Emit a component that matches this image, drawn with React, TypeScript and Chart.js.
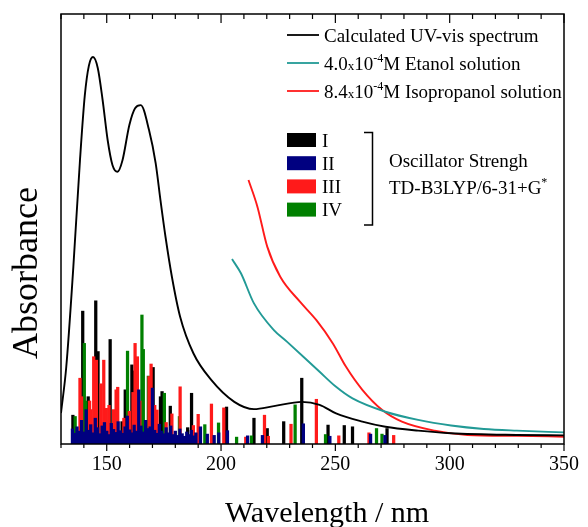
import { useEffect, useRef } from 'react';
import { Chart, registerables } from 'chart.js';

Chart.register(...registerables);

// ---- Data ----
const xMin = 130;
const xMax = 350;
const xTickLabels = [150, 200, 250, 300, 350];

// Calculated UV-vis spectrum
const calcNm = [130, 132.3, 135.4, 138.3, 140.4, 142.2, 144.0, 146.1, 148.2, 150.4, 152.5, 154.7, 156.9, 159.9, 162.4, 164.9, 168.5, 171.4, 173.5, 175.7, 178.5, 182.1, 187.9, 195.7, 205.8, 214.4, 223.1, 235.3, 243.1, 250.3, 261.8, 271.9, 286.2, 300.6, 329.3, 350];
const calcAbs = [7.2, 17.9, 41.2, 66, 81, 88, 90, 87.4, 80, 70.7, 64.9, 63.3, 66.0, 74.2, 78.1, 78.8, 73.0, 65.3, 56.7, 48.2, 38.9, 29.6, 21.1, 14.9, 9.8, 8.1, 8.8, 9.8, 9.1, 7.1, 5.2, 4.0, 3.1, 2.5, 2.1, 2.0];

// 4.0x10^-4 M Etanol solution
const etNm = [204.8, 208.7, 214.4, 223.1, 228.8, 236.0, 243.1, 250.3, 257.5, 271.9, 286.2, 300.6, 314.9, 329.3, 350];
const etAbs = [43.0, 39.7, 32.7, 26.5, 23.8, 20.3, 16.8, 13.3, 10.6, 7.5, 5.6, 4.3, 3.5, 3.1, 2.7];

// 8.4x10^-4 M Isopropanol solution
const isoNm = [212.0, 215.9, 220.2, 225.9, 234.5, 241.7, 248.9, 254.6, 261.8, 270.5, 279.1, 293.4, 307.8, 329.3, 350];
const isoAbs = [61.4, 55.2, 45.9, 38.9, 33.1, 28.8, 23.4, 18.0, 12.6, 7.9, 5.2, 3.1, 2.1, 1.9, 1.7];

// Oscillator strengths (sticks)
const osc1Nm = [135.2, 139.5, 141.9, 145.2, 146.2, 151.5, 156.7, 158.1, 161.0, 161.8, 170.3, 173.5, 174.2, 177.8, 185.4, 187.1, 202.4, 214.4, 220.2, 227.4, 235.3, 246.8, 253.9, 257.5, 272.6];
const osc1F = [6.7, 30.9, 11, 33.3, 21.5, 24.3, 5.2, 12.6, 18.4, 17.0, 17.8, 11, 12.2, 8.8, 3.8, 11.8, 8.6, 6.0, 3.6, 5.2, 15.3, 4.4, 4.3, 4.0, 3.6];

const osc2Nm = [135, 136, 137, 138, 139, 140, 141, 142, 143, 144, 145, 146, 147, 148, 149, 150, 151, 152, 153, 154, 155, 156, 157, 158, 159, 160, 161, 162, 163, 164, 165, 166, 167, 168, 169, 170, 171, 172, 173, 174, 175, 176, 177, 178, 179, 180, 181, 182, 183, 184, 185, 186, 187, 188, 189, 191, 194, 197, 199, 202.8, 211.6, 218.1, 236, 247.6, 265.4, 271.7];
const osc2F = [3.5, 2.5, 4.0, 3.0, 5.5, 2.8, 8.0, 3.2, 4.5, 2.6, 6.0, 3.8, 2.4, 4.2, 5.0, 3.0, 2.2, 4.8, 3.4, 2.7, 5.2, 3.1, 2.5, 4.0, 6.5, 3.3, 2.6, 4.4, 3.0, 12.6, 4.2, 2.8, 5.5, 3.6, 4.0, 13.0, 3.2, 2.5, 4.6, 3.0, 2.4, 3.8, 2.6, 4.2, 2.2, 3.0, 2.0, 3.5, 2.4, 1.8, 2.8, 2.2, 3.2, 1.9, 2.6, 4.0, 2.3, 2.0, 2.6, 3.1, 1.9, 2.0, 4.7, 1.8, 2.3, 2.0];

const osc3Nm = [138.3, 139.0, 142.5, 143.1, 144.3, 145.5, 147.5, 148.7, 149.8, 151.0, 153.0, 154.1, 154.8, 157.5, 159.9, 161.5, 162.4, 163.4, 164.5, 168.5, 169.4, 171.0, 172.0, 176.0, 178.5, 182.1, 187.9, 190.0, 195.8, 201.2, 210.8, 219.0, 220.7, 230.6, 241.7, 251.5, 264.7, 275.5];
const osc3F = [15.3, 11, 10, 8, 20.3, 19.5, 14, 19.5, 8.3, 9, 8, 12.6, 13.2, 6, 7.6, 12, 23.4, 20.3, 10, 15.7, 18.6, 9, 7.9, 5, 7, 13.3, 4.3, 6.9, 9.3, 8.4, 1.6, 6.7, 1.8, 4.6, 10.4, 1.9, 2.6, 2.0];

const osc4Nm = [136.2, 140.2, 140.9, 149.6, 159.1, 165.4, 166.0, 168.2, 175.2, 181.8, 192.9, 198.9, 206.8, 213.3, 232.4, 245.7, 268.0, 270.4];
const osc4F = [6.4, 23.4, 10, 8.3, 21.6, 30.0, 22, 15.8, 11.8, 6.4, 4.5, 4.9, 1.6, 1.9, 9.1, 2.2, 3.6, 2.3];

const pts = (xs: number[], ys: number[]) => xs.map((x, i) => ({ x, y: ys[i] }));

const SERIF = '"Liberation Serif", "Times New Roman", serif';
const TEAL = '#229a96';
const RED = '#ff1a1a';
const NAVY = '#000080';
const GREEN = '#008000';

function drawRuns(ctx: CanvasRenderingContext2D, x: number, y: number, runs: [string, number, number][]) {
  let cx = x;
  for (const [t, size, dy] of runs) {
    ctx.font = `${size}px ${SERIF}`;
    ctx.fillText(t, cx, y + dy);
    cx += ctx.measureText(t).width;
  }
}

const decoPlugin = {
  id: 'deco',
  afterDraw(chart: any) {
    const { ctx, chartArea: a, scales } = chart;
    const xs = scales.x;
    ctx.save();
    // frame
    ctx.strokeStyle = '#000';
    ctx.lineWidth = 1.5;
    ctx.strokeRect(a.left, a.top, a.right - a.left, a.bottom - a.top);
    // ticks (bottom outward, top inward)
    ctx.lineWidth = 1.2;
    for (let v = xMin; v <= xMax; v += 10) {
      const px = xs.getPixelForValue(v);
      const major = xTickLabels.includes(v);
      ctx.beginPath();
      ctx.moveTo(px, a.bottom);
      ctx.lineTo(px, a.bottom + (major ? 7 : 4));
      ctx.moveTo(px, a.top);
      ctx.lineTo(px, a.top + (major ? 9 : 5));
      ctx.stroke();
    }

    // Legend: lines
    const rows: [string, number, [string, number, number][]][] = [
      ['#000', 35, [['Calculated UV-vis spectrum', 19, 0]]],
      [TEAL, 63, [['4.0', 19, 0], ['x', 13, 0], ['10', 19, 0], ['-4', 12, -8], ['M Etanol solution', 19, 0]]],
      [RED, 91, [['8.4', 19, 0], ['x', 13, 0], ['10', 19, 0], ['-4', 12, -8], ['M Isopropanol solution', 19, 0]]],
    ];
    ctx.fillStyle = '#000';
    ctx.textBaseline = 'alphabetic';
    ctx.textAlign = 'left';
    for (const [col, yc, runs] of rows) {
      ctx.strokeStyle = col;
      ctx.lineWidth = 1.8;
      ctx.beginPath();
      ctx.moveTo(287, yc);
      ctx.lineTo(319, yc);
      ctx.stroke();
      drawRuns(ctx, 324, yc + 6.5, runs);
    }

    // Legend: bars
    const boxes: [string, string][] = [['#000', 'I'], [NAVY, 'II'], [RED, 'III'], [GREEN, 'IV']];
    boxes.forEach(([col, lab], i) => {
      const top = 133 + i * 23.2;
      ctx.fillStyle = col;
      ctx.fillRect(287, top, 29, 14);
      ctx.fillStyle = '#000';
      ctx.font = `19px ${SERIF}`;
      ctx.fillText(lab, 322, top + 7 + 6.5);
    });
    // bracket
    ctx.strokeStyle = '#000';
    ctx.lineWidth = 1.5;
    ctx.beginPath();
    ctx.moveTo(364, 132.5);
    ctx.lineTo(372.5, 132.5);
    ctx.lineTo(372.5, 225);
    ctx.lineTo(364, 225);
    ctx.stroke();
    ctx.fillStyle = '#000';
    drawRuns(ctx, 389, 166.5, [['Oscillator Strengh', 19, 0]]);
    drawRuns(ctx, 389, 193.5, [['TD-B3LYP/6-31+G', 19, 0], ['*', 12, -8]]);

    // Axis titles
    ctx.font = `30px ${SERIF}`;
    ctx.textAlign = 'center';
    ctx.textBaseline = 'alphabetic';
    ctx.fillText('Wavelength / nm', 327, 522);
    ctx.save();
    ctx.translate(28, 273);
    ctx.rotate(-Math.PI / 2);
    ctx.font = `36px ${SERIF}`;
    ctx.textBaseline = 'middle';
    ctx.fillText('Absorbance', 0, 0);
    ctx.restore();

    ctx.restore();
  },
};

export default function App() {
  const ref = useRef<HTMLCanvasElement>(null);
  useEffect(() => {
    if (!ref.current) return;
    const lineDs = (label: string, xs: number[], ys: number[], color: string) => ({
      type: 'line' as const,
      label,
      data: pts(xs, ys),
      borderColor: color,
      backgroundColor: color,
      borderWidth: 1.9,
      pointRadius: 0,
      fill: false,
      cubicInterpolationMode: 'monotone' as const,
      order: 0,
    });
    const barDs = (label: string, xs: number[], ys: number[], color: string, order: number) => ({
      type: 'bar' as const,
      label,
      data: pts(xs, ys),
      backgroundColor: color,
      borderWidth: 0,
      barThickness: 2.6,
      grouped: false,
      order,
    });
    const chart = new Chart(ref.current, {
      type: 'bar',
      data: {
        datasets: [
          barDs('I', osc1Nm, osc1F, '#000', 4),
          barDs('IV', osc4Nm, osc4F, GREEN, 3),
          barDs('III', osc3Nm, osc3F, RED, 2),
          barDs('II', osc2Nm, osc2F, NAVY, 1),
          lineDs('Calculated UV-vis spectrum', calcNm, calcAbs, '#000'),
          lineDs('4.0x10-4M Etanol solution', etNm, etAbs, TEAL),
          lineDs('8.4x10-4M Isopropanol solution', isoNm, isoAbs, RED),
        ] as any,
      },
      options: {
        animation: false,
        responsive: false,
        layout: { padding: { left: 61, right: 17, top: 14, bottom: 0 } },
        plugins: { legend: { display: false }, tooltip: { enabled: false } },
        scales: {
          x: {
            type: 'linear',
            min: xMin,
            max: xMax,
            offset: false,
            grid: { display: false, drawTicks: false },
            border: { display: false },
            afterFit: (s: any) => { s.height = 83; },
            ticks: {
              stepSize: 10,
              autoSkip: false,
              maxRotation: 0,
              padding: 9,
              color: '#000',
              font: { family: SERIF, size: 20 },
              callback: (v: any) => (xTickLabels.includes(Number(v)) ? String(v) : ''),
            },
          },
          y: { type: 'linear', min: 0, max: 100, display: false },
        },
      },
      plugins: [decoPlugin],
    } as any);
    return () => chart.destroy();
  }, []);
  return (
    <div style={{ position: 'fixed', left: 0, top: 0, width: 588, height: 527, background: '#fff' }}>
      <canvas ref={ref} width={588} height={527} style={{ display: 'block' }} />
    </div>
  );
}
